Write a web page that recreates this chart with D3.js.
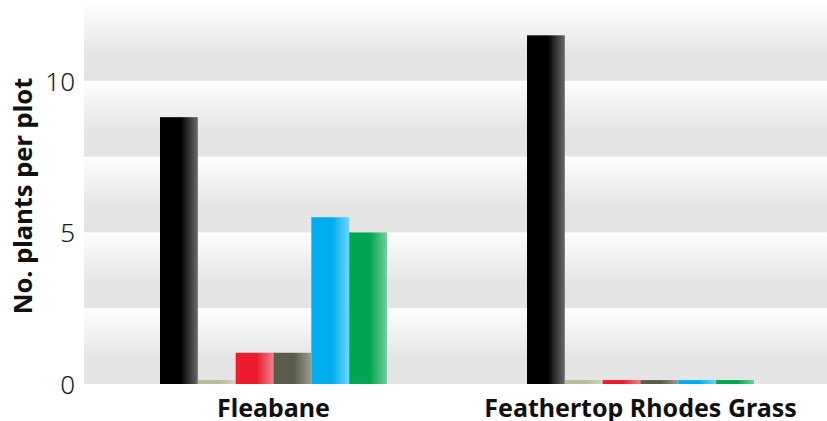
<!DOCTYPE html>
<html><head><meta charset="utf-8">
<script src="https://cdn.jsdelivr.net/npm/d3@7/dist/d3.min.js"></script>
<style>body{margin:0;background:#fff}svg{display:block}</style>
</head><body>
<svg id="c" width="827" height="421"></svg>
<script>
const categories = ["Fleabane", "Feathertop Rhodes Grass"];
const series = ["s1", "s2", "s3", "s4", "s5", "s6"];
const values = {
  s1: [8.8, 11.5],
  s2: [0.13, 0.13],
  s3: [1.03, 0.13],
  s4: [1.03, 0.13],
  s5: [5.5, 0.13],
  s6: [5.0, 0.13]
};
const yTicks = [0, 5, 10];
const yTitle = "No. plants per plot";
const colors = {
  s1: ["#000000", "#6a6a6a"],
  s2: ["#b7bb98", "#d4d6c0"],
  s3: ["#ed1c2e", "#f07f8a"],
  s4: ["#5b5d4b", "#9c9c8c"],
  s5: ["#00aeef", "#6cd5fb"],
  s6: ["#00a651", "#72cf9d"]
};

const svg = d3.select("#c");
const plot = {left: 84, right: 827, top: 5, bottom: 384};
const y = d3.scaleLinear().domain([0, 12.5]).range([plot.bottom, plot.top]);
const x0 = d3.scaleBand().domain(categories).range([90, 824]).paddingInner(0).paddingOuter(0);
const x1 = d3.scaleBand().domain(series).range([0, 227]);

const defs = svg.append("defs");
const bg = defs.append("linearGradient").attr("id", "bandg").attr("x1", 0).attr("y1", 0).attr("x2", 0).attr("y2", 1);
bg.append("stop").attr("offset", 0).attr("stop-color", "#fdfdfd");
bg.append("stop").attr("offset", 0.68).attr("stop-color", "#e4e4e4");
bg.append("stop").attr("offset", 1).attr("stop-color", "#e4e4e4");

series.forEach(s => {
  const g = defs.append("linearGradient").attr("id", "g_" + s).attr("x1", 0).attr("y1", 0).attr("x2", 1).attr("y2", 0);
  g.append("stop").attr("offset", 0).attr("stop-color", colors[s][0]);
  g.append("stop").attr("offset", 0.55).attr("stop-color", colors[s][0]);
  g.append("stop").attr("offset", 1).attr("stop-color", colors[s][1]);
});

// background bands
const bands = d3.range(0, 12.5, 2.5);
svg.append("g").selectAll("rect").data(bands).join("rect")
  .attr("x", plot.left).attr("width", plot.right - plot.left)
  .attr("y", d => y(d + 2.5)).attr("height", d => y(d) - y(d + 2.5))
  .attr("fill", "url(#bandg)");

// bars
const groups = svg.append("g").selectAll("g").data(categories).join("g")
  .attr("transform", d => `translate(${x0(d) + x0.bandwidth() / 2 - 113.5},0)`);
groups.selectAll("rect").data((d, i) => series.map(s => ({s, v: values[s][i]}))).join("rect")
  .attr("x", d => x1(d.s)).attr("width", x1.bandwidth())
  .attr("y", d => y(d.v)).attr("height", d => y(0) - y(d.v))
  .attr("fill", d => `url(#g_${d.s})`);

// y axis
const yAxis = svg.append("g").attr("transform", `translate(${plot.left},0)`)
  .call(d3.axisLeft(y).tickValues(yTicks).tickSize(0).tickPadding(9));
yAxis.select(".domain").remove();
yAxis.selectAll("text").attr("font-family", "Noto Sans, sans-serif").attr("font-size", 26)
  .attr("font-weight", 300).attr("fill", "#1a1a1a").attr("dy", "0.36em");

// x axis labels
const xAxis = svg.append("g").attr("transform", `translate(0,${plot.bottom})`)
  .call(d3.axisBottom(x0).tickSize(0).tickPadding(15));
xAxis.select(".domain").remove();
xAxis.selectAll("text").attr("font-family", "Noto Sans, sans-serif").attr("font-size", 25)
  .attr("font-weight", 700).attr("fill", "#111");

// y title
svg.append("text").attr("transform", "translate(32,196) rotate(-90)")
  .attr("text-anchor", "middle").attr("font-family", "Noto Sans, sans-serif")
  .attr("font-size", 25.5).attr("font-weight", 700).attr("fill", "#111").text(yTitle);
</script>
</body></html>
